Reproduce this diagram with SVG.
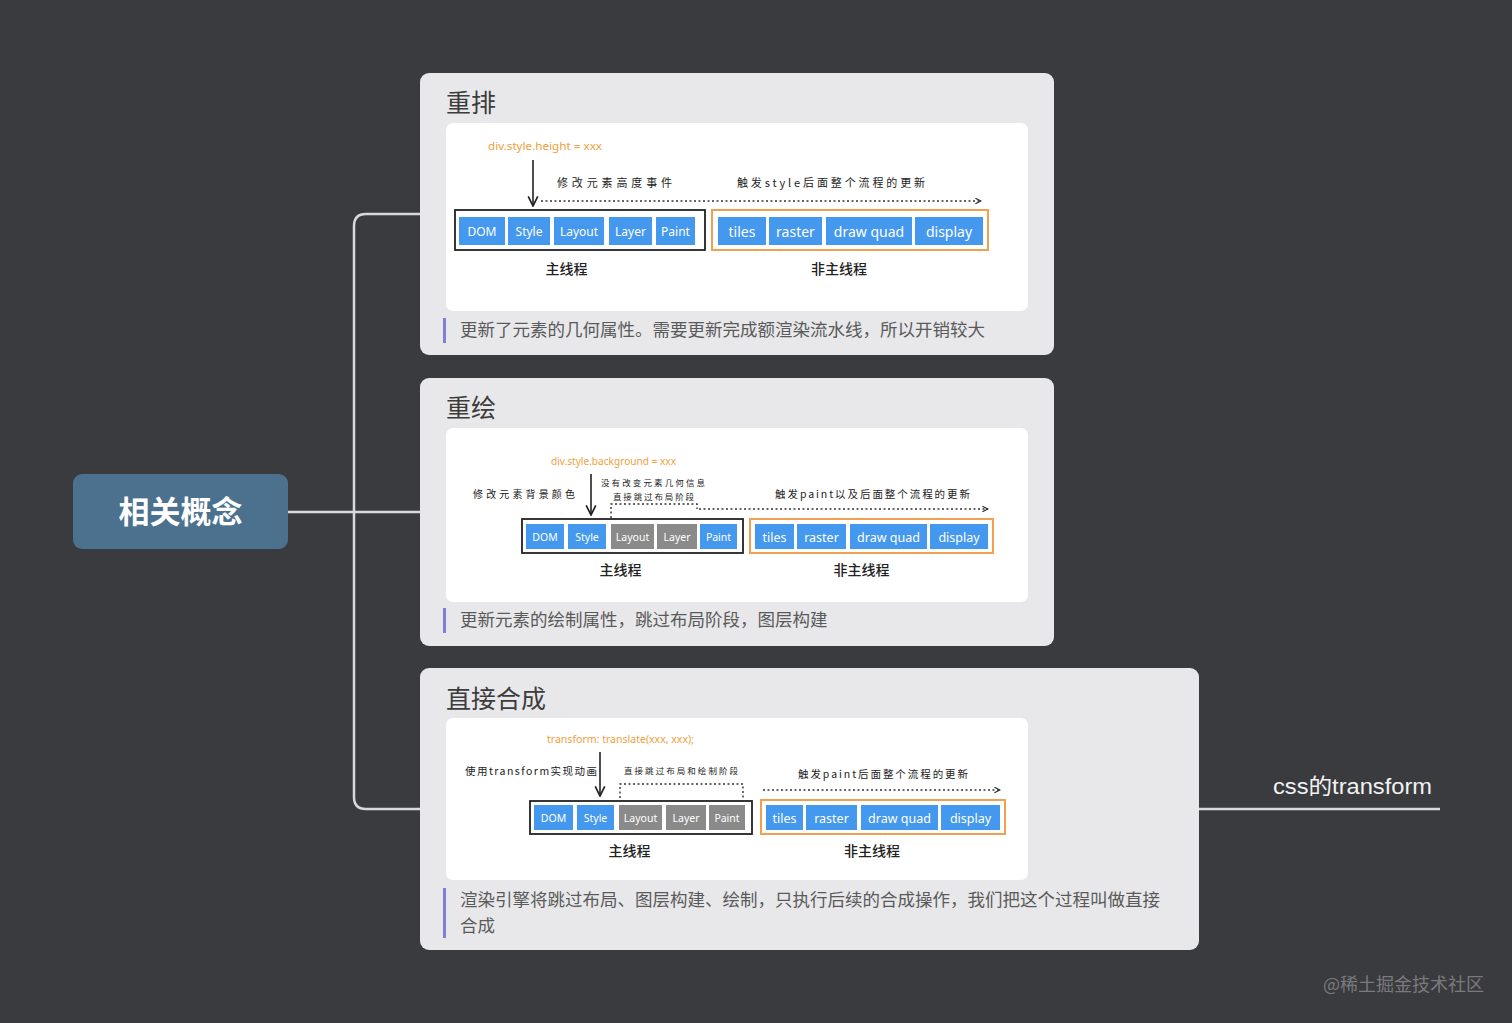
<svg xmlns="http://www.w3.org/2000/svg" width="1512" height="1023" viewBox="0 0 1512 1023">
<defs>
<marker id="chev" viewBox="0 0 10 10" refX="9" refY="5" markerWidth="7" markerHeight="7" orient="auto" markerUnits="userSpaceOnUse">
<path d="M1,1 L9,5 L1,9" fill="none" stroke="#222" stroke-width="1.5"/>
</marker>
<marker id="chevBig" viewBox="0 0 10 10" refX="9" refY="5" markerWidth="12" markerHeight="12" orient="auto" markerUnits="userSpaceOnUse">
<path d="M1,1 L9,5 L1,9" fill="none" stroke="#222" stroke-width="1.4"/>
</marker>
<style>
.bg{fill:#3a3b3f}
.card{fill:#e8e8ea}
.inner{fill:#ffffff}
.title{font-family:"Noto Sans CJK SC","Noto Sans",sans-serif;font-size:25px;fill:#3c3c3c}
.desc{font-family:"Noto Sans CJK SC","Noto Sans",sans-serif;font-size:17.5px;fill:#5a5a5a}
.bar{fill:#7d80d6}
.conn{fill:none;stroke:#d9d9d9;stroke-width:2.5}
.code{font-family:"Noto Sans","Liberation Sans",sans-serif;fill:#f0a040}
.hand{font-family:"Noto Sans CJK SC","Noto Sans",sans-serif;fill:#222}
.lbl{font-family:"Noto Sans CJK SC","Noto Sans",sans-serif;font-size:14px;fill:#222;font-weight:500}
.mainbox{fill:none;stroke:#222;stroke-width:1.8}
.orbox{fill:none;stroke:#f0a050;stroke-width:2}
.blue{fill:#4499ee}
.gray{fill:#8a8a8a}
.bt{font-family:"Noto Sans","Liberation Sans",sans-serif;fill:#ffffff;text-anchor:middle}
.dot{fill:none;stroke:#333;stroke-width:1.4;stroke-dasharray:2 2.5}
.vline{fill:none;stroke:#222;stroke-width:1.6}
</style>
</defs>
<rect class="bg" x="0" y="0" width="1512" height="1023"/>

<g id="connectors">
<path class="conn" d="M288,512 L420,512"/>
<path class="conn" d="M420,214 L366,214 Q354,214 354,226 L354,797 Q354,809 366,809 L420,809"/>
<path class="conn" d="M1199,809 L1440,809"/>
</g>

<g id="root">
<rect x="73" y="474" width="215" height="75" rx="9" fill="#4b718f"/>
<text x="180.5" y="523" text-anchor="middle" font-family="Noto Sans CJK SC, Noto Sans, sans-serif" font-size="31" font-weight="700" fill="#ffffff">相关概念</text>
</g>

<g id="card-reflow">
<rect class="card" x="420" y="73" width="634" height="282" rx="9"/>
<text class="title" x="446" y="112">重排</text>
<rect class="inner" x="446" y="123" width="582" height="188" rx="7"/>
<text class="code" x="488" y="150" font-size="11" textLength="114" lengthAdjust="spacingAndGlyphs">div.style.height = xxx</text>
<line class="vline" x1="533" y1="160" x2="533" y2="206" marker-end="url(#chevBig)"/>
<text class="hand" x="557" y="187" font-size="11" textLength="115" lengthAdjust="spacing">修改元素高度事件</text>
<text class="hand" x="737" y="187" font-size="11" textLength="188" lengthAdjust="spacing">触发style后面整个流程的更新</text>
<line class="dot" x1="541" y1="201" x2="981" y2="201" marker-end="url(#chev)"/>
<rect class="mainbox" x="455" y="210" width="250" height="40"/>
<rect class="blue" x="459" y="217" width="46" height="28"/>
<rect class="blue" x="508" y="217" width="42" height="28"/>
<rect class="blue" x="554" y="217" width="50" height="28"/>
<rect class="blue" x="609" y="217" width="43" height="28"/>
<rect class="blue" x="656" y="217" width="39" height="28"/>
<text class="bt" font-size="12" x="482" y="235.5">DOM</text>
<text class="bt" font-size="12" x="529" y="235.5">Style</text>
<text class="bt" font-size="12" x="579" y="235.5">Layout</text>
<text class="bt" font-size="12" x="630.5" y="235.5">Layer</text>
<text class="bt" font-size="12" x="675.5" y="235.5">Paint</text>
<rect class="orbox" x="712" y="210" width="276" height="40"/>
<rect class="blue" x="718" y="217" width="48" height="28"/>
<rect class="blue" x="769" y="217" width="53" height="28"/>
<rect class="blue" x="826" y="217" width="86" height="28"/>
<rect class="blue" x="915" y="217" width="68" height="28"/>
<text class="bt" font-size="14" x="742" y="236.5">tiles</text>
<text class="bt" font-size="14" x="795.5" y="236.5">raster</text>
<text class="bt" font-size="14" x="869" y="236.5">draw quad</text>
<text class="bt" font-size="14" x="949" y="236.5">display</text>
<text class="lbl" x="566.5" y="274" text-anchor="middle">主线程</text>
<text class="lbl" x="839" y="274" text-anchor="middle">非主线程</text>
<rect class="bar" x="443" y="318" width="3" height="25"/>
<text class="desc" x="460" y="336">更新了元素的几何属性。需要更新完成额渲染流水线，所以开销较大</text>
</g>

<g id="card-repaint">
<rect class="card" x="420" y="378" width="634" height="268" rx="9"/>
<text class="title" x="446" y="417">重绘</text>
<rect class="inner" x="446" y="428" width="582" height="174" rx="7"/>
<text class="code" x="551" y="465" font-size="10" textLength="125" lengthAdjust="spacingAndGlyphs">div.style.background = xxx</text>
<text class="hand" x="473" y="498" font-size="10" textLength="102" lengthAdjust="spacing">修改元素背景颜色</text>
<line class="vline" x1="591" y1="474" x2="591" y2="515" marker-end="url(#chevBig)"/>
<text class="hand" x="601" y="486" font-size="8.5" textLength="104" lengthAdjust="spacing">没有改变元素几何信息</text>
<text class="hand" x="613" y="500" font-size="8.5" textLength="81" lengthAdjust="spacing">直接跳过布局阶段</text>
<path class="dot" d="M611,518 L611,504 L697,504 L697,509"/>
<line class="dot" x1="699" y1="509" x2="988" y2="509" marker-end="url(#chev)"/>
<text class="hand" x="775" y="498" font-size="10.5" textLength="195" lengthAdjust="spacing">触发paint以及后面整个流程的更新</text>
<rect class="mainbox" x="522" y="519" width="221" height="34"/>
<rect class="blue" x="526" y="524" width="38" height="25"/>
<rect class="blue" x="568" y="524" width="38" height="25"/>
<rect class="gray" x="611" y="524" width="43" height="25"/>
<rect class="gray" x="657" y="524" width="40" height="25"/>
<rect class="blue" x="700" y="524" width="37" height="25"/>
<text class="bt" font-size="10.5" x="545" y="540.5">DOM</text>
<text class="bt" font-size="10.5" x="587" y="540.5">Style</text>
<text class="bt" font-size="10.5" x="632.5" y="540.5">Layout</text>
<text class="bt" font-size="10.5" x="677" y="540.5">Layer</text>
<text class="bt" font-size="10.5" x="718.5" y="540.5">Paint</text>
<rect class="orbox" x="750" y="519" width="243" height="34"/>
<rect class="blue" x="755" y="524" width="39" height="25"/>
<rect class="blue" x="797" y="524" width="49" height="25"/>
<rect class="blue" x="850" y="524" width="77" height="25"/>
<rect class="blue" x="930" y="524" width="58" height="25"/>
<text class="bt" font-size="12.5" x="774.5" y="541.5">tiles</text>
<text class="bt" font-size="12.5" x="821.5" y="541.5">raster</text>
<text class="bt" font-size="12.5" x="888.5" y="541.5">draw quad</text>
<text class="bt" font-size="12.5" x="959" y="541.5">display</text>
<text class="lbl" x="620.5" y="575" text-anchor="middle" font-size="13">主线程</text>
<text class="lbl" x="861.5" y="575" text-anchor="middle" font-size="13">非主线程</text>
<rect class="bar" x="443" y="608" width="3" height="25"/>
<text class="desc" x="460" y="626">更新元素的绘制属性，跳过布局阶段，图层构建</text>
</g>

<g id="card-composite">
<rect class="card" x="420" y="668" width="779" height="282" rx="9"/>
<text class="title" x="446" y="708">直接合成</text>
<rect class="inner" x="446" y="718" width="582" height="162" rx="7"/>
<text class="code" x="547" y="743" font-size="10" textLength="147" lengthAdjust="spacingAndGlyphs">transform: translate(xxx, xxx);</text>
<text class="hand" x="465" y="775" font-size="10.5" textLength="132" lengthAdjust="spacing">使用transform实现动画</text>
<line class="vline" x1="600" y1="752" x2="600" y2="796" marker-end="url(#chevBig)"/>
<text class="hand" x="624" y="774" font-size="8.5" textLength="114" lengthAdjust="spacing">直接跳过布局和绘制阶段</text>
<path class="dot" d="M620,798 L620,784 L743,784 L743,799"/>
<line class="dot" x1="763" y1="790" x2="1000" y2="790" marker-end="url(#chev)"/>
<text class="hand" x="798" y="778" font-size="10.5" textLength="170" lengthAdjust="spacing">触发paint后面整个流程的更新</text>
<rect class="mainbox" x="530" y="801" width="222" height="33"/>
<rect class="blue" x="534" y="805" width="39" height="25"/>
<rect class="blue" x="577" y="805" width="37" height="25"/>
<rect class="gray" x="619" y="805" width="43" height="25"/>
<rect class="gray" x="666" y="805" width="40" height="25"/>
<rect class="gray" x="709" y="805" width="36" height="25"/>
<text class="bt" font-size="10.5" x="553.5" y="821.5">DOM</text>
<text class="bt" font-size="10.5" x="595.5" y="821.5">Style</text>
<text class="bt" font-size="10.5" x="640.5" y="821.5">Layout</text>
<text class="bt" font-size="10.5" x="686" y="821.5">Layer</text>
<text class="bt" font-size="10.5" x="727" y="821.5">Paint</text>
<rect class="orbox" x="761" y="800" width="244" height="34"/>
<rect class="blue" x="766" y="805" width="37" height="25"/>
<rect class="blue" x="806" y="805" width="51" height="25"/>
<rect class="blue" x="861" y="805" width="77" height="25"/>
<rect class="blue" x="941" y="805" width="59" height="25"/>
<text class="bt" font-size="12.5" x="784.5" y="822.5">tiles</text>
<text class="bt" font-size="12.5" x="831.5" y="822.5">raster</text>
<text class="bt" font-size="12.5" x="899.5" y="822.5">draw quad</text>
<text class="bt" font-size="12.5" x="970.5" y="822.5">display</text>
<text class="lbl" x="629.5" y="856" text-anchor="middle" font-size="13">主线程</text>
<text class="lbl" x="872" y="856" text-anchor="middle" font-size="13">非主线程</text>
<rect class="bar" x="443" y="888" width="3" height="50"/>
<text class="desc" x="460" y="906">渲染引擎将跳过布局、图层构建、绘制，只执行后续的合成操作，我们把这个过程叫做直接</text>
<text class="desc" x="460" y="932">合成</text>
</g>

<g id="leaf-css-transform">
<text x="1273" y="794" font-family="Liberation Sans, Noto Sans CJK SC, sans-serif" font-size="22" fill="#f2f2f2" textLength="159" lengthAdjust="spacingAndGlyphs">css的transform</text>
</g>

<text x="1323" y="991" font-family="Noto Sans CJK SC, Noto Sans, sans-serif" font-size="18" fill="#7a7a7e">@稀土掘金技术社区</text>
</svg>
